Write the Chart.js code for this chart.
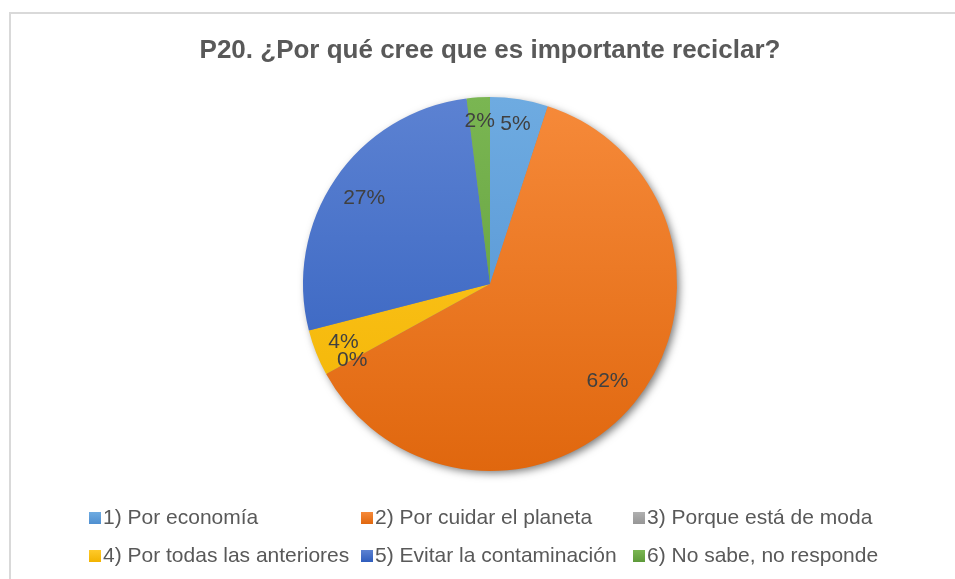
<!DOCTYPE html>
<html>
<head>
<meta charset="utf-8">
<script src="https://cdn.jsdelivr.net/npm/chart.js@4.4.1/dist/chart.umd.min.js"></script>
<style>
  html, body { margin: 0; padding: 0; background: #fff; overflow: hidden; }
  .frame { position: absolute; left: 9px; top: 12px; width: 1000px; height: 700px; border: 2px solid #d9d9d9; box-sizing: border-box; }
  #wrap { position: absolute; left: 0; top: 0; width: 955px; height: 579px; }
</style>
</head>
<body>
<div class="frame"></div>
<div id="wrap"><canvas id="pie" width="955" height="579"></canvas></div>
<script>
const titleText = 'P20. ¿Por qué cree que es importante reciclar?';
const categories = [
  '1) Por economía',
  '2) Por cuidar el planeta',
  '3) Porque está de moda',
  '4) Por todas las anteriores',
  '5) Evitar la contaminación',
  '6) No sabe, no responde'
];
const percentages = [5, 62, 0, 4, 27, 2];

// top / bottom of each slice gradient
const sliceColors = [
  ['#6eabe1', '#4f8fd0'],
  ['#f68a3a', '#e0670e'],
  ['#b0b0b0', '#969696'],
  ['#ffca2a', '#f2b300'],
  ['#5c82d2', '#2f5dbd'],
  ['#7ab652', '#5e9a3a']
];

const FONT = 'Arial, "Liberation Sans", sans-serif';

function sliceFill(context) {
  const chart = context.chart;
  const area = chart.chartArea;
  const pair = sliceColors[context.dataIndex];
  if (!area) return pair[1];
  const g = chart.ctx.createLinearGradient(0, area.top, 0, area.bottom);
  g.addColorStop(0, pair[0]);
  g.addColorStop(1, pair[1]);
  return g;
}

// soft shadow under the whole pie
const pieShadow = {
  id: 'pieShadow',
  beforeDatasetsDraw(chart) {
    const arc = chart.getDatasetMeta(0).data[0];
    if (!arc) return;
    const ctx = chart.ctx;
    ctx.save();
    ctx.shadowColor = 'rgba(0,0,0,0.55)';
    ctx.shadowBlur = 9;
    ctx.shadowOffsetX = 3;
    ctx.shadowOffsetY = 3;
    ctx.fillStyle = '#888';
    ctx.beginPath();
    ctx.arc(arc.x, arc.y, arc.outerRadius - 1, 0, Math.PI * 2);
    ctx.fill();
    ctx.restore();
  }
};

// percentage labels, pushed in from the rim by the label's own size
const sliceLabels = {
  id: 'sliceLabels',
  afterDatasetsDraw(chart) {
    const ctx = chart.ctx;
    const meta = chart.getDatasetMeta(0);
    ctx.save();
    ctx.font = '21px ' + FONT;
    ctx.fillStyle = '#404040';
    ctx.textAlign = 'center';
    ctx.textBaseline = 'middle';
    meta.data.forEach((arc, i) => {
      const p = arc.getProps(['x', 'y', 'startAngle', 'endAngle', 'outerRadius']);
      const mid = (p.startAngle + p.endAngle) / 2;
      const txt = percentages[i] + '%';
      const w = ctx.measureText(txt).width;
      const h = 23;
      const reach = Math.abs(Math.sin(mid)) * h / 2 + Math.abs(Math.cos(mid)) * w / 2;
      const r = p.outerRadius - 11 - reach;
      ctx.fillText(txt, p.x + Math.cos(mid) * r, p.y + Math.sin(mid) * r);
    });
    ctx.restore();
  }
};

// title drawn by hand so it is not squeezed into the pie's width
const topTitle = {
  id: 'topTitle',
  afterDraw(chart) {
    const arc = chart.getDatasetMeta(0).data[0];
    const ctx = chart.ctx;
    ctx.save();
    ctx.font = 'bold 26px ' + FONT;
    ctx.fillStyle = '#595959';
    ctx.textAlign = 'center';
    ctx.textBaseline = 'middle';
    ctx.fillText(titleText, arc ? arc.x : chart.width / 2, 51);
    ctx.restore();
  }
};

// two-row legend on a fixed column grid
const bottomLegend = {
  id: 'bottomLegend',
  afterDraw(chart) {
    const ctx = chart.ctx;
    ctx.save();
    ctx.font = '21px ' + FONT;
    ctx.textBaseline = 'middle';
    const cols = [89, 361, 633];
    const rowY = [518, 556];
    categories.forEach((label, idx) => {
      const x = cols[idx % 3];
      const y = rowY[Math.floor(idx / 3)];
      const pair = sliceColors[idx];
      const g = ctx.createLinearGradient(0, y - 6, 0, y + 6);
      g.addColorStop(0, pair[0]);
      g.addColorStop(1, pair[1]);
      ctx.fillStyle = g;
      ctx.fillRect(x, y - 6, 12, 12);
      ctx.fillStyle = '#595959';
      ctx.fillText(label, x + 14, y);
    });
    ctx.restore();
  }
};

new Chart(document.getElementById('pie'), {
  type: 'pie',
  data: {
    labels: categories,
    datasets: [{
      data: percentages,
      backgroundColor: sliceFill,
      borderWidth: 0
    }]
  },
  options: {
    responsive: false,
    animation: false,
    layout: { padding: { left: 303, right: 278, top: 97, bottom: 108 } },
    plugins: {
      legend: { display: false },
      tooltip: { enabled: false },
      title: { display: false }
    }
  },
  plugins: [pieShadow, sliceLabels, topTitle, bottomLegend]
});
</script>
</body>
</html>
